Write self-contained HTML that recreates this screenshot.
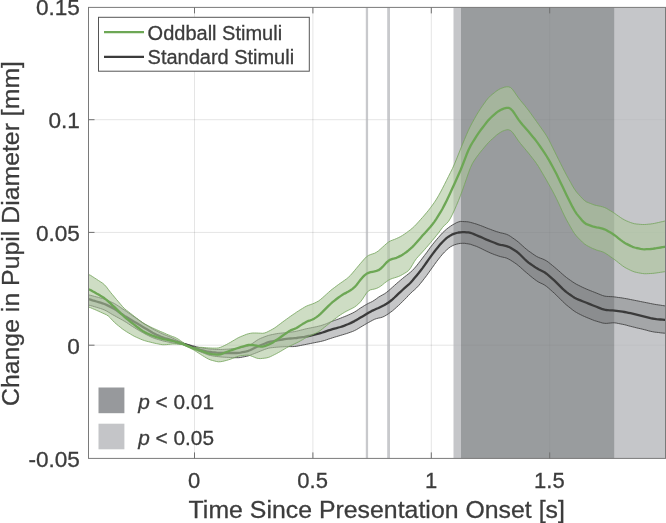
<!DOCTYPE html>
<html lang="en"><head><meta charset="utf-8"><title>Change in Pupil Diameter</title>
<style>html,body{margin:0;padding:0;background:#fff;overflow:hidden}body{width:666px;height:523px;position:relative}text{stroke:#3c3c3c;stroke-width:.3px}</style></head>
<body>
<svg width="666" height="523" viewBox="0 0 666 523" style="display:block;position:absolute;left:0;top:0" font-family="'Liberation Sans', Arial, Helvetica, sans-serif" fill="#3c3c3c">
<rect x="0" y="0" width="666" height="523" fill="#ffffff"/>
<line x1="194.5" y1="7.4" x2="194.5" y2="458.4" stroke="#262626" stroke-opacity="0.085" stroke-width="1"/>
<line x1="312.9" y1="7.4" x2="312.9" y2="458.4" stroke="#262626" stroke-opacity="0.085" stroke-width="1"/>
<line x1="431.3" y1="7.4" x2="431.3" y2="458.4" stroke="#262626" stroke-opacity="0.085" stroke-width="1"/>
<line x1="549.7" y1="7.4" x2="549.7" y2="458.4" stroke="#262626" stroke-opacity="0.085" stroke-width="1"/>
<line x1="88.5" y1="345.2" x2="667" y2="345.2" stroke="#262626" stroke-opacity="0.085" stroke-width="1"/>
<line x1="88.5" y1="232.4" x2="667" y2="232.4" stroke="#262626" stroke-opacity="0.085" stroke-width="1"/>
<line x1="88.5" y1="119.7" x2="667" y2="119.7" stroke="#262626" stroke-opacity="0.085" stroke-width="1"/>
<rect x="453.5" y="7.4" width="214.5" height="451.0" fill="#c5c6c9"/>
<rect x="461" y="7.4" width="153.20000000000005" height="451.0" fill="#999c9e"/>
<rect x="365.8" y="7.4" width="2.3" height="451.0" fill="#c8c9cc"/>
<rect x="387.2" y="7.4" width="2.8" height="451.0" fill="#c8c9cc"/>
<line x1="194.5" y1="7.4" x2="194.5" y2="458.4" stroke="#262626" stroke-opacity="0.03" stroke-width="1"/>
<line x1="312.9" y1="7.4" x2="312.9" y2="458.4" stroke="#262626" stroke-opacity="0.03" stroke-width="1"/>
<line x1="431.3" y1="7.4" x2="431.3" y2="458.4" stroke="#262626" stroke-opacity="0.03" stroke-width="1"/>
<line x1="549.7" y1="7.4" x2="549.7" y2="458.4" stroke="#262626" stroke-opacity="0.03" stroke-width="1"/>
<line x1="88.5" y1="345.2" x2="667" y2="345.2" stroke="#262626" stroke-opacity="0.03" stroke-width="1"/>
<line x1="88.5" y1="232.4" x2="667" y2="232.4" stroke="#262626" stroke-opacity="0.03" stroke-width="1"/>
<line x1="88.5" y1="119.7" x2="667" y2="119.7" stroke="#262626" stroke-opacity="0.03" stroke-width="1"/>
<clipPath id="ax"><rect x="88.5" y="7.4" width="577.0" height="451.0"/></clipPath>
<g clip-path="url(#ax)">
<path d="M88.5 294.9 L90.5 295.3 L92.5 295.8 L94.5 296.4 L96.5 296.9 L98.5 297.4 L100.5 298.0 L102.5 298.5 L104.5 299.1 L106.5 299.9 L108.5 300.8 L110.5 301.7 L112.5 302.6 L114.5 303.6 L116.5 304.8 L118.5 306.1 L120.5 307.4 L122.5 308.8 L124.5 310.1 L126.5 311.5 L128.5 312.9 L130.5 314.3 L132.5 315.7 L134.5 317.1 L136.5 318.5 L138.5 319.9 L140.5 321.3 L142.5 322.7 L144.5 324.0 L146.5 325.2 L148.5 326.4 L150.5 327.6 L152.5 328.8 L154.5 329.9 L156.5 330.9 L158.5 331.9 L160.5 332.9 L162.5 333.8 L164.5 334.7 L166.5 335.5 L168.5 336.3 L170.5 337.1 L172.5 338.0 L174.5 338.9 L176.5 339.9 L178.5 340.9 L180.5 341.9 L182.5 342.8 L184.5 343.5 L186.5 344.0 L188.5 344.6 L190.5 345.1 L192.5 345.7 L194.5 346.2 L196.5 346.8 L198.5 347.3 L200.5 347.7 L202.5 348.1 L204.5 348.4 L206.5 348.6 L208.5 348.9 L210.5 349.1 L212.5 349.2 L214.5 349.4 L216.5 349.5 L218.5 349.5 L220.5 349.5 L222.5 349.4 L224.5 349.3 L226.5 349.2 L228.5 349.1 L230.5 348.9 L232.5 348.7 L234.5 348.5 L236.5 348.3 L238.5 348.1 L240.5 347.7 L242.5 347.3 L244.5 346.9 L246.5 346.5 L248.5 345.8 L250.5 344.8 L252.5 343.4 L254.5 342.0 L256.5 340.6 L258.5 339.4 L260.5 338.4 L262.5 337.6 L264.5 336.8 L266.5 336.1 L268.5 335.4 L270.5 334.9 L272.5 334.5 L274.5 334.1 L276.5 333.7 L278.5 333.4 L280.5 333.2 L282.5 333.0 L284.5 332.8 L286.5 332.6 L288.5 332.3 L290.5 332.1 L292.5 331.9 L294.5 331.6 L296.5 331.2 L298.5 330.7 L300.5 330.2 L302.5 329.7 L304.5 329.2 L306.5 328.7 L308.5 328.3 L310.5 327.9 L312.5 327.5 L314.5 327.1 L316.5 326.7 L318.5 326.2 L320.5 325.7 L322.5 325.1 L324.5 324.4 L326.5 323.7 L328.5 322.8 L330.5 321.9 L332.5 321.1 L334.5 320.4 L336.5 319.7 L338.5 319.0 L340.5 318.2 L342.5 317.4 L344.5 316.6 L346.5 315.8 L348.5 314.9 L350.5 314.0 L352.5 313.1 L354.5 312.0 L356.5 310.8 L358.5 309.4 L360.5 308.0 L362.5 306.8 L364.5 305.5 L366.5 304.4 L368.5 303.3 L370.5 302.4 L372.5 301.4 L374.5 300.1 L376.5 298.7 L378.5 297.2 L380.5 296.0 L382.5 294.9 L384.5 293.8 L386.5 292.4 L388.5 290.8 L390.5 289.0 L392.5 287.2 L394.5 285.4 L396.5 283.6 L398.5 281.9 L400.5 280.2 L402.5 278.5 L404.5 276.9 L406.5 275.4 L408.5 273.8 L410.5 272.2 L412.5 270.4 L414.5 268.2 L416.5 265.9 L418.5 263.3 L420.5 260.7 L422.5 258.1 L424.5 255.4 L426.5 252.8 L428.5 250.0 L430.5 247.2 L432.5 244.6 L434.5 242.1 L436.5 239.7 L438.5 237.4 L440.5 235.1 L442.5 232.9 L444.5 231.0 L446.5 229.2 L448.5 227.6 L450.5 226.2 L452.5 224.9 L454.5 223.8 L456.5 222.7 L458.5 221.9 L460.5 221.4 L462.5 221.5 L464.5 221.6 L466.5 221.7 L468.5 221.9 L470.5 222.4 L472.5 222.9 L474.5 223.5 L476.5 224.1 L478.5 224.8 L480.5 225.5 L482.5 226.3 L484.5 227.1 L486.5 227.9 L488.5 228.7 L490.5 229.4 L492.5 230.2 L494.5 230.9 L496.5 231.6 L498.5 232.2 L500.5 232.8 L502.5 233.2 L504.5 233.7 L506.5 234.3 L508.5 235.2 L510.5 236.4 L512.5 237.8 L514.5 239.2 L516.5 240.6 L518.5 242.2 L520.5 244.0 L522.5 245.8 L524.5 247.6 L526.5 249.3 L528.5 250.9 L530.5 252.3 L532.5 253.7 L534.5 255.1 L536.5 256.4 L538.5 257.4 L540.5 258.2 L542.5 258.9 L544.5 259.8 L546.5 260.9 L548.5 262.3 L550.5 263.9 L552.5 265.5 L554.5 267.2 L556.5 268.9 L558.5 270.6 L560.5 272.4 L562.5 274.2 L564.5 275.9 L566.5 277.5 L568.5 279.0 L570.5 280.4 L572.5 281.8 L574.5 283.1 L576.5 284.3 L578.5 285.3 L580.5 286.3 L582.5 287.3 L584.5 288.2 L586.5 289.1 L588.5 289.9 L590.5 290.7 L592.5 291.5 L594.5 292.3 L596.5 293.1 L598.5 293.9 L600.5 294.7 L602.5 295.5 L604.5 296.1 L606.5 296.4 L608.5 296.5 L610.5 296.6 L612.5 296.7 L614.5 296.9 L616.5 297.2 L618.5 297.5 L620.5 297.7 L622.5 298.0 L624.5 298.4 L626.5 298.7 L628.5 299.1 L630.5 299.5 L632.5 299.9 L634.5 300.3 L636.5 300.7 L638.5 301.1 L640.5 301.5 L642.5 301.9 L644.5 302.3 L646.5 302.7 L648.5 303.1 L650.5 303.5 L652.5 303.9 L654.5 304.3 L656.5 304.6 L658.5 304.9 L660.5 305.2 L662.5 305.5 L664.5 305.8 L666.5 305.9 L666.5 333.3 L664.5 333.2 L662.5 333.0 L660.5 332.8 L658.5 332.5 L656.5 332.3 L654.5 332.1 L652.5 331.7 L650.5 331.3 L648.5 330.8 L646.5 330.2 L644.5 329.7 L642.5 329.2 L640.5 328.7 L638.5 328.3 L636.5 327.8 L634.5 327.3 L632.5 326.8 L630.5 326.3 L628.5 325.8 L626.5 325.2 L624.5 324.7 L622.5 324.3 L620.5 323.9 L618.5 323.5 L616.5 323.1 L614.5 322.8 L612.5 322.8 L610.5 323.0 L608.5 323.2 L606.5 323.4 L604.5 323.3 L602.5 323.0 L600.5 322.4 L598.5 321.8 L596.5 321.2 L594.5 320.6 L592.5 319.8 L590.5 319.0 L588.5 318.2 L586.5 317.4 L584.5 316.5 L582.5 315.6 L580.5 314.6 L578.5 313.6 L576.5 312.5 L574.5 311.3 L572.5 309.8 L570.5 308.2 L568.5 306.6 L566.5 305.0 L564.5 303.2 L562.5 301.3 L560.5 299.3 L558.5 297.3 L556.5 295.3 L554.5 293.4 L552.5 291.6 L550.5 289.8 L548.5 288.0 L546.5 286.4 L544.5 285.0 L542.5 283.9 L540.5 283.0 L538.5 282.0 L536.5 280.7 L534.5 279.3 L532.5 277.7 L530.5 276.1 L528.5 274.4 L526.5 272.7 L524.5 271.0 L522.5 269.2 L520.5 267.4 L518.5 265.7 L516.5 264.1 L514.5 262.7 L512.5 261.4 L510.5 260.1 L508.5 259.0 L506.5 258.1 L504.5 257.5 L502.5 257.1 L500.5 256.6 L498.5 256.0 L496.5 255.3 L494.5 254.6 L492.5 253.8 L490.5 253.0 L488.5 252.1 L486.5 251.2 L484.5 250.2 L482.5 249.2 L480.5 248.2 L478.5 247.3 L476.5 246.4 L474.5 245.7 L472.5 245.0 L470.5 244.3 L468.5 243.9 L466.5 243.6 L464.5 243.3 L462.5 243.3 L460.5 243.4 L458.5 243.7 L456.5 244.2 L454.5 244.8 L452.5 245.7 L450.5 246.8 L448.5 248.3 L446.5 250.1 L444.5 252.0 L442.5 254.2 L440.5 256.6 L438.5 259.1 L436.5 261.7 L434.5 264.5 L432.5 267.3 L430.5 270.1 L428.5 272.9 L426.5 275.7 L424.5 278.3 L422.5 280.9 L420.5 283.4 L418.5 285.8 L416.5 287.9 L414.5 289.8 L412.5 291.5 L410.5 293.4 L408.5 295.4 L406.5 297.6 L404.5 299.6 L402.5 301.6 L400.5 303.6 L398.5 305.5 L396.5 307.3 L394.5 309.1 L392.5 310.8 L390.5 312.3 L388.5 313.7 L386.5 315.0 L384.5 316.2 L382.5 317.1 L380.5 317.7 L378.5 318.1 L376.5 318.6 L374.5 319.3 L372.5 320.3 L370.5 321.4 L368.5 322.5 L366.5 323.6 L364.5 324.8 L362.5 326.0 L360.5 327.2 L358.5 328.4 L356.5 329.6 L354.5 330.6 L352.5 331.5 L350.5 332.2 L348.5 332.9 L346.5 333.6 L344.5 334.2 L342.5 334.8 L340.5 335.4 L338.5 336.0 L336.5 336.6 L334.5 337.2 L332.5 337.8 L330.5 338.5 L328.5 339.1 L326.5 339.8 L324.5 340.5 L322.5 341.0 L320.5 341.5 L318.5 341.9 L316.5 342.3 L314.5 342.7 L312.5 343.1 L310.5 343.5 L308.5 343.9 L306.5 344.3 L304.5 344.7 L302.5 345.1 L300.5 345.5 L298.5 345.9 L296.5 346.3 L294.5 346.5 L292.5 346.6 L290.5 346.6 L288.5 346.6 L286.5 346.6 L284.5 346.7 L282.5 346.8 L280.5 346.9 L278.5 347.1 L276.5 347.2 L274.5 347.4 L272.5 347.6 L270.5 347.8 L268.5 348.2 L266.5 348.8 L264.5 349.5 L262.5 350.3 L260.5 351.1 L258.5 351.9 L256.5 352.7 L254.5 353.5 L252.5 354.3 L250.5 355.1 L248.5 355.8 L246.5 356.3 L244.5 356.7 L242.5 357.1 L240.5 357.5 L238.5 357.7 L236.5 357.7 L234.5 357.7 L232.5 357.6 L230.5 357.5 L228.5 357.4 L226.5 357.3 L224.5 357.2 L222.5 357.1 L220.5 356.9 L218.5 356.7 L216.5 356.5 L214.5 356.2 L212.5 355.9 L210.5 355.5 L208.5 355.0 L206.5 354.3 L204.5 353.5 L202.5 352.7 L200.5 351.9 L198.5 351.1 L196.5 350.2 L194.5 349.4 L192.5 348.5 L190.5 347.7 L188.5 346.8 L186.5 346.0 L184.5 345.1 L182.5 344.5 L180.5 344.0 L178.5 343.8 L176.5 343.5 L174.5 343.2 L172.5 342.9 L170.5 342.5 L168.5 342.1 L166.5 341.7 L164.5 341.3 L162.5 340.8 L160.5 340.2 L158.5 339.6 L156.5 339.0 L154.5 338.4 L152.5 337.6 L150.5 336.7 L148.5 335.7 L146.5 334.7 L144.5 333.6 L142.5 332.5 L140.5 331.4 L138.5 330.2 L136.5 329.0 L134.5 327.7 L132.5 326.5 L130.5 325.2 L128.5 323.8 L126.5 322.5 L124.5 321.3 L122.5 320.1 L120.5 319.0 L118.5 317.9 L116.5 316.8 L114.5 315.7 L112.5 314.6 L110.5 313.4 L108.5 312.2 L106.5 311.0 L104.5 310.0 L102.5 309.2 L100.5 308.5 L98.5 307.9 L96.5 307.3 L94.5 306.7 L92.5 306.1 L90.5 305.5 L88.5 305.1Z" fill="#787a7d" fill-opacity="0.42" stroke="#404040" stroke-opacity="0.95" stroke-width="0.9" stroke-linejoin="round"/>
<path d="M88.5 299.2 L90.5 299.6 L92.5 300.3 L94.5 300.9 L96.5 301.5 L98.5 302.1 L100.5 302.7 L102.5 303.3 L104.5 304.0 L106.5 304.9 L108.5 305.9 L110.5 306.9 L112.5 307.9 L114.5 309.1 L116.5 310.4 L118.5 311.8 L120.5 313.2 L122.5 314.5 L124.5 315.9 L126.5 317.1 L128.5 318.3 L130.5 319.5 L132.5 320.7 L134.5 321.9 L136.5 323.1 L138.5 324.3 L140.5 325.5 L142.5 326.7 L144.5 327.9 L146.5 329.1 L148.5 330.3 L150.5 331.5 L152.5 332.7 L154.5 333.7 L156.5 334.7 L158.5 335.6 L160.5 336.5 L162.5 337.3 L164.5 338.1 L166.5 338.6 L168.5 339.2 L170.5 339.8 L172.5 340.3 L174.5 341.0 L176.5 341.6 L178.5 342.2 L180.5 342.9 L182.5 343.5 L184.5 344.2 L186.5 344.9 L188.5 345.6 L190.5 346.4 L192.5 347.1 L194.5 347.8 L196.5 348.5 L198.5 349.2 L200.5 349.8 L202.5 350.3 L204.5 350.8 L206.5 351.3 L208.5 351.7 L210.5 352.0 L212.5 352.3 L214.5 352.5 L216.5 352.7 L218.5 352.8 L220.5 352.9 L222.5 353.0 L224.5 353.0 L226.5 353.0 L228.5 353.0 L230.5 353.0 L232.5 353.0 L234.5 353.0 L236.5 353.0 L238.5 352.8 L240.5 352.6 L242.5 352.2 L244.5 351.8 L246.5 351.4 L248.5 350.8 L250.5 350.0 L252.5 349.0 L254.5 348.0 L256.5 347.0 L258.5 346.1 L260.5 345.3 L262.5 344.5 L264.5 343.7 L266.5 342.9 L268.5 342.2 L270.5 341.7 L272.5 341.3 L274.5 340.9 L276.5 340.5 L278.5 340.2 L280.5 339.8 L282.5 339.5 L284.5 339.2 L286.5 338.9 L288.5 338.7 L290.5 338.5 L292.5 338.4 L294.5 338.2 L296.5 338.0 L298.5 337.7 L300.5 337.4 L302.5 337.1 L304.5 336.8 L306.5 336.4 L308.5 336.0 L310.5 335.6 L312.5 335.1 L314.5 334.7 L316.5 334.2 L318.5 333.7 L320.5 333.1 L322.5 332.5 L324.5 331.8 L326.5 331.1 L328.5 330.4 L330.5 329.8 L332.5 329.2 L334.5 328.6 L336.5 328.1 L338.5 327.5 L340.5 327.0 L342.5 326.3 L344.5 325.6 L346.5 324.8 L348.5 324.0 L350.5 323.1 L352.5 322.1 L354.5 321.1 L356.5 319.9 L358.5 318.8 L360.5 317.6 L362.5 316.4 L364.5 315.2 L366.5 314.0 L368.5 312.8 L370.5 311.7 L372.5 310.6 L374.5 309.7 L376.5 308.8 L378.5 308.0 L380.5 307.0 L382.5 306.0 L384.5 305.0 L386.5 303.8 L388.5 302.5 L390.5 301.0 L392.5 299.3 L394.5 297.5 L396.5 295.6 L398.5 293.7 L400.5 291.8 L402.5 290.0 L404.5 288.2 L406.5 286.4 L408.5 284.7 L410.5 282.7 L412.5 280.5 L414.5 278.1 L416.5 275.7 L418.5 273.3 L420.5 270.7 L422.5 268.1 L424.5 265.3 L426.5 262.5 L428.5 259.7 L430.5 256.9 L432.5 254.1 L434.5 251.5 L436.5 248.9 L438.5 246.5 L440.5 244.1 L442.5 242.0 L444.5 240.0 L446.5 238.2 L448.5 236.7 L450.5 235.4 L452.5 234.3 L454.5 233.6 L456.5 233.0 L458.5 232.5 L460.5 232.3 L462.5 232.1 L464.5 232.1 L466.5 232.3 L468.5 232.4 L470.5 232.9 L472.5 233.5 L474.5 234.4 L476.5 235.2 L478.5 236.1 L480.5 236.9 L482.5 237.8 L484.5 238.7 L486.5 239.6 L488.5 240.4 L490.5 241.2 L492.5 242.0 L494.5 242.8 L496.5 243.6 L498.5 244.3 L500.5 244.8 L502.5 245.2 L504.5 245.6 L506.5 246.1 L508.5 246.8 L510.5 247.8 L512.5 249.0 L514.5 250.2 L516.5 251.5 L518.5 253.1 L520.5 255.0 L522.5 257.0 L524.5 259.0 L526.5 260.9 L528.5 262.6 L530.5 264.0 L532.5 265.4 L534.5 266.8 L536.5 268.1 L538.5 269.3 L540.5 270.3 L542.5 271.3 L544.5 272.3 L546.5 273.7 L548.5 275.3 L550.5 277.1 L552.5 278.9 L554.5 280.7 L556.5 282.6 L558.5 284.6 L560.5 286.6 L562.5 288.6 L564.5 290.5 L566.5 292.1 L568.5 293.6 L570.5 295.0 L572.5 296.4 L574.5 297.7 L576.5 298.7 L578.5 299.6 L580.5 300.4 L582.5 301.2 L584.5 302.0 L586.5 302.8 L588.5 303.6 L590.5 304.4 L592.5 305.2 L594.5 306.0 L596.5 306.8 L598.5 307.6 L600.5 308.4 L602.5 309.2 L604.5 309.7 L606.5 310.0 L608.5 310.2 L610.5 310.3 L612.5 310.4 L614.5 310.6 L616.5 310.8 L618.5 311.1 L620.5 311.4 L622.5 311.7 L624.5 312.0 L626.5 312.4 L628.5 312.8 L630.5 313.2 L632.5 313.6 L634.5 314.1 L636.5 314.6 L638.5 315.1 L640.5 315.6 L642.5 316.1 L644.5 316.6 L646.5 317.1 L648.5 317.6 L650.5 318.1 L652.5 318.5 L654.5 318.8 L656.5 319.1 L658.5 319.3 L660.5 319.5 L662.5 319.7 L664.5 319.9 L666.5 320.0" fill="none" stroke="#3b3b3b" stroke-width="2.3" stroke-linejoin="round"/>
<path d="M88.5 274.5 L90.5 275.3 L92.5 276.6 L94.5 277.9 L96.5 279.2 L98.5 280.5 L100.5 281.8 L102.5 283.1 L104.5 284.8 L106.5 287.0 L108.5 289.7 L110.5 292.3 L112.5 294.7 L114.5 297.1 L116.5 299.5 L118.5 301.8 L120.5 304.2 L122.5 306.5 L124.5 308.6 L126.5 310.3 L128.5 311.8 L130.5 313.4 L132.5 314.9 L134.5 316.5 L136.5 318.0 L138.5 319.5 L140.5 321.1 L142.5 322.5 L144.5 323.8 L146.5 324.9 L148.5 325.9 L150.5 326.9 L152.5 327.9 L154.5 328.8 L156.5 329.7 L158.5 330.6 L160.5 331.5 L162.5 332.3 L164.5 333.2 L166.5 334.1 L168.5 334.9 L170.5 335.7 L172.5 336.5 L174.5 337.2 L176.5 338.2 L178.5 339.3 L180.5 340.7 L182.5 342.1 L184.5 343.5 L186.5 344.7 L188.5 345.7 L190.5 346.4 L192.5 347.1 L194.5 347.5 L196.5 347.5 L198.5 347.3 L200.5 347.3 L202.5 347.4 L204.5 347.6 L206.5 347.8 L208.5 347.9 L210.5 348.0 L212.5 348.1 L214.5 348.1 L216.5 348.1 L218.5 347.9 L220.5 347.3 L222.5 346.5 L224.5 345.5 L226.5 344.5 L228.5 343.4 L230.5 342.3 L232.5 341.1 L234.5 339.9 L236.5 338.7 L238.5 337.6 L240.5 336.7 L242.5 335.9 L244.5 335.1 L246.5 334.3 L248.5 333.7 L250.5 333.3 L252.5 333.0 L254.5 333.0 L256.5 333.0 L258.5 333.1 L260.5 333.2 L262.5 333.3 L264.5 333.0 L266.5 332.3 L268.5 331.3 L270.5 330.3 L272.5 329.2 L274.5 328.0 L276.5 326.6 L278.5 325.1 L280.5 323.6 L282.5 322.1 L284.5 320.6 L286.5 319.2 L288.5 317.7 L290.5 316.3 L292.5 314.9 L294.5 313.6 L296.5 312.2 L298.5 310.9 L300.5 309.6 L302.5 308.4 L304.5 307.2 L306.5 306.1 L308.5 305.3 L310.5 304.6 L312.5 303.9 L314.5 303.1 L316.5 302.1 L318.5 301.0 L320.5 299.5 L322.5 297.8 L324.5 296.0 L326.5 294.2 L328.5 292.4 L330.5 290.6 L332.5 289.0 L334.5 287.5 L336.5 286.0 L338.5 284.5 L340.5 283.1 L342.5 281.7 L344.5 280.3 L346.5 278.9 L348.5 277.2 L350.5 275.3 L352.5 273.0 L354.5 270.6 L356.5 268.2 L358.5 265.8 L360.5 263.4 L362.5 261.1 L364.5 258.8 L366.5 256.8 L368.5 255.4 L370.5 254.6 L372.5 253.9 L374.5 253.3 L376.5 252.2 L378.5 250.8 L380.5 249.0 L382.5 247.2 L384.5 245.4 L386.5 243.6 L388.5 242.1 L390.5 240.9 L392.5 240.1 L394.5 239.4 L396.5 238.5 L398.5 237.6 L400.5 236.6 L402.5 235.4 L404.5 234.1 L406.5 232.7 L408.5 231.2 L410.5 229.7 L412.5 228.0 L414.5 226.2 L416.5 224.1 L418.5 221.9 L420.5 219.6 L422.5 217.4 L424.5 215.1 L426.5 212.7 L428.5 210.3 L430.5 207.7 L432.5 205.0 L434.5 202.2 L436.5 199.1 L438.5 195.7 L440.5 192.1 L442.5 188.3 L444.5 184.4 L446.5 180.4 L448.5 176.4 L450.5 172.4 L452.5 168.4 L454.5 163.9 L456.5 159.1 L458.5 154.1 L460.5 149.1 L462.5 144.3 L464.5 139.5 L466.5 134.7 L468.5 130.1 L470.5 126.0 L472.5 122.3 L474.5 118.7 L476.5 115.1 L478.5 111.8 L480.5 108.7 L482.5 105.8 L484.5 103.0 L486.5 100.2 L488.5 97.8 L490.5 95.8 L492.5 94.2 L494.5 92.6 L496.5 91.0 L498.5 89.7 L500.5 88.6 L502.5 87.9 L504.5 87.2 L506.5 86.8 L508.5 86.8 L510.5 87.5 L512.5 89.4 L514.5 92.1 L516.5 95.1 L518.5 97.9 L520.5 100.5 L522.5 102.9 L524.5 105.3 L526.5 107.8 L528.5 110.4 L530.5 113.1 L532.5 115.9 L534.5 118.7 L536.5 121.5 L538.5 124.3 L540.5 127.1 L542.5 129.9 L544.5 132.7 L546.5 135.8 L548.5 139.3 L550.5 143.2 L552.5 147.3 L554.5 151.3 L556.5 155.4 L558.5 159.4 L560.5 163.4 L562.5 167.4 L564.5 171.3 L566.5 175.1 L568.5 178.7 L570.5 182.3 L572.5 185.9 L574.5 189.2 L576.5 192.0 L578.5 194.3 L580.5 196.5 L582.5 198.7 L584.5 200.5 L586.5 201.9 L588.5 202.7 L590.5 203.5 L592.5 204.3 L594.5 205.0 L596.5 205.5 L598.5 205.9 L600.5 206.3 L602.5 206.8 L604.5 207.5 L606.5 208.4 L608.5 209.6 L610.5 210.8 L612.5 212.0 L614.5 213.3 L616.5 214.7 L618.5 216.1 L620.5 217.5 L622.5 218.8 L624.5 219.9 L626.5 220.9 L628.5 221.7 L630.5 222.5 L632.5 223.2 L634.5 223.7 L636.5 224.0 L638.5 224.2 L640.5 224.4 L642.5 224.5 L644.5 224.5 L646.5 224.4 L648.5 224.2 L650.5 224.0 L652.5 223.7 L654.5 223.4 L656.5 222.9 L658.5 222.5 L660.5 222.0 L662.5 221.6 L664.5 221.1 L666.5 220.9 L666.5 271.5 L664.5 271.7 L662.5 272.0 L660.5 272.3 L658.5 272.6 L656.5 272.9 L654.5 273.2 L652.5 273.4 L650.5 273.5 L648.5 273.6 L646.5 273.7 L644.5 273.7 L642.5 273.5 L640.5 273.2 L638.5 272.8 L636.5 272.4 L634.5 271.9 L632.5 271.2 L630.5 270.3 L628.5 269.3 L626.5 268.3 L624.5 267.2 L622.5 265.8 L620.5 264.3 L618.5 262.7 L616.5 261.1 L614.5 259.5 L612.5 258.1 L610.5 256.7 L608.5 255.3 L606.5 253.9 L604.5 252.7 L602.5 251.8 L600.5 251.2 L598.5 250.6 L596.5 250.0 L594.5 249.2 L592.5 248.4 L590.5 247.4 L588.5 246.4 L586.5 245.3 L584.5 243.9 L582.5 242.2 L580.5 240.2 L578.5 238.2 L576.5 236.1 L574.5 233.5 L572.5 230.4 L570.5 226.9 L568.5 223.4 L566.5 219.8 L564.5 215.9 L562.5 211.7 L560.5 207.3 L558.5 202.9 L556.5 198.7 L554.5 194.7 L552.5 190.9 L550.5 187.3 L548.5 183.7 L546.5 180.2 L544.5 176.7 L542.5 173.3 L540.5 169.9 L538.5 166.5 L536.5 163.5 L534.5 160.7 L532.5 158.2 L530.5 155.6 L528.5 153.1 L526.5 150.7 L524.5 148.3 L522.5 145.9 L520.5 143.5 L518.5 140.9 L516.5 138.0 L514.5 135.0 L512.5 132.3 L510.5 130.5 L508.5 129.7 L506.5 129.8 L504.5 130.4 L502.5 131.2 L500.5 132.3 L498.5 133.6 L496.5 135.1 L494.5 136.9 L492.5 138.7 L490.5 140.5 L488.5 142.5 L486.5 144.7 L484.5 147.1 L482.5 149.5 L480.5 151.9 L478.5 154.5 L476.5 157.2 L474.5 160.1 L472.5 163.3 L470.5 167.5 L468.5 172.8 L466.5 178.6 L464.5 184.4 L462.5 190.0 L460.5 195.4 L458.5 200.5 L456.5 205.3 L454.5 209.9 L452.5 214.2 L450.5 218.2 L448.5 221.4 L446.5 223.6 L444.5 225.3 L442.5 227.5 L440.5 230.2 L438.5 232.9 L436.5 235.4 L434.5 237.9 L432.5 240.3 L430.5 242.7 L428.5 245.1 L426.5 247.4 L424.5 249.7 L422.5 251.9 L420.5 254.1 L418.5 256.3 L416.5 258.5 L414.5 261.3 L412.5 264.7 L410.5 268.1 L408.5 270.6 L406.5 272.1 L404.5 273.3 L402.5 274.5 L400.5 275.6 L398.5 276.5 L396.5 277.2 L394.5 277.8 L392.5 278.4 L390.5 279.2 L388.5 280.2 L386.5 281.6 L384.5 283.1 L382.5 284.8 L380.5 286.3 L378.5 287.5 L376.5 288.4 L374.5 289.0 L372.5 289.4 L370.5 289.8 L368.5 290.9 L366.5 293.0 L364.5 296.1 L362.5 299.2 L360.5 301.8 L358.5 303.9 L356.5 305.6 L354.5 307.1 L352.5 308.2 L350.5 309.2 L348.5 310.2 L346.5 311.2 L344.5 312.3 L342.5 313.5 L340.5 314.8 L338.5 316.2 L336.5 317.7 L334.5 319.2 L332.5 320.8 L330.5 322.4 L328.5 324.0 L326.5 325.6 L324.5 327.2 L322.5 328.8 L320.5 330.4 L318.5 331.7 L316.5 332.9 L314.5 333.8 L312.5 334.8 L310.5 335.6 L308.5 336.4 L306.5 337.4 L304.5 338.5 L302.5 339.7 L300.5 340.8 L298.5 341.9 L296.5 342.9 L294.5 343.8 L292.5 344.8 L290.5 345.7 L288.5 346.7 L286.5 347.8 L284.5 349.0 L282.5 350.2 L280.5 351.4 L278.5 352.5 L276.5 353.6 L274.5 354.6 L272.5 355.6 L270.5 356.6 L268.5 357.4 L266.5 357.9 L264.5 358.2 L262.5 358.4 L260.5 358.6 L258.5 358.5 L256.5 358.1 L254.5 357.3 L252.5 356.5 L250.5 355.7 L248.5 355.2 L246.5 355.1 L244.5 355.3 L242.5 355.5 L240.5 355.7 L238.5 356.2 L236.5 356.8 L234.5 357.6 L232.5 358.4 L230.5 359.2 L228.5 359.8 L226.5 360.4 L224.5 360.9 L222.5 361.4 L220.5 361.7 L218.5 361.8 L216.5 361.5 L214.5 361.0 L212.5 360.5 L210.5 359.9 L208.5 359.1 L206.5 358.0 L204.5 356.8 L202.5 355.6 L200.5 354.3 L198.5 353.0 L196.5 351.7 L194.5 350.4 L192.5 349.3 L190.5 348.3 L188.5 347.3 L186.5 346.3 L184.5 345.3 L182.5 344.6 L180.5 344.2 L178.5 344.2 L176.5 344.1 L174.5 344.0 L172.5 344.0 L170.5 344.2 L168.5 344.4 L166.5 344.6 L164.5 344.7 L162.5 344.7 L160.5 344.4 L158.5 344.0 L156.5 343.6 L154.5 343.2 L152.5 342.7 L150.5 342.2 L148.5 341.7 L146.5 341.2 L144.5 340.6 L142.5 339.9 L140.5 339.1 L138.5 338.2 L136.5 337.3 L134.5 336.4 L132.5 335.3 L130.5 334.1 L128.5 332.9 L126.5 331.7 L124.5 330.4 L122.5 329.0 L120.5 327.4 L118.5 325.8 L116.5 324.2 L114.5 322.4 L112.5 320.4 L110.5 318.1 L108.5 316.2 L106.5 314.8 L104.5 313.9 L102.5 313.0 L100.5 312.1 L98.5 311.2 L96.5 310.3 L94.5 309.4 L92.5 308.6 L90.5 307.7 L88.5 307.1Z" fill="#aec79d" fill-opacity="0.6" stroke="#74a55c" stroke-opacity="0.9" stroke-width="0.9" stroke-linejoin="round"/>
<path d="M88.5 289.3 L90.5 290.0 L92.5 291.2 L94.5 292.3 L96.5 293.5 L98.5 294.6 L100.5 295.8 L102.5 296.9 L104.5 298.3 L106.5 299.8 L108.5 301.6 L110.5 303.4 L112.5 305.3 L114.5 307.1 L116.5 309.1 L118.5 311.1 L120.5 313.1 L122.5 315.0 L124.5 316.9 L126.5 318.6 L128.5 320.2 L130.5 321.8 L132.5 323.4 L134.5 324.9 L136.5 326.5 L138.5 328.0 L140.5 329.5 L142.5 330.9 L144.5 332.1 L146.5 333.1 L148.5 334.0 L150.5 334.9 L152.5 335.7 L154.5 336.4 L156.5 337.1 L158.5 337.7 L160.5 338.3 L162.5 338.8 L164.5 339.3 L166.5 339.7 L168.5 340.1 L170.5 340.5 L172.5 341.0 L174.5 341.5 L176.5 342.1 L178.5 342.7 L180.5 343.3 L182.5 344.0 L184.5 344.7 L186.5 345.6 L188.5 346.4 L190.5 347.2 L192.5 348.1 L194.5 348.8 L196.5 349.5 L198.5 350.1 L200.5 350.7 L202.5 351.4 L204.5 352.1 L206.5 352.8 L208.5 353.5 L210.5 353.9 L212.5 354.2 L214.5 354.4 L216.5 354.6 L218.5 354.6 L220.5 354.3 L222.5 353.6 L224.5 352.8 L226.5 352.0 L228.5 351.3 L230.5 350.5 L232.5 349.8 L234.5 349.2 L236.5 348.5 L238.5 347.8 L240.5 347.2 L242.5 346.6 L244.5 346.0 L246.5 345.4 L248.5 345.0 L250.5 344.9 L252.5 345.0 L254.5 345.3 L256.5 345.7 L258.5 346.2 L260.5 346.6 L262.5 346.6 L264.5 346.2 L266.5 345.4 L268.5 344.6 L270.5 343.7 L272.5 342.7 L274.5 341.4 L276.5 340.0 L278.5 338.6 L280.5 337.2 L282.5 335.8 L284.5 334.4 L286.5 333.0 L288.5 331.6 L290.5 330.4 L292.5 329.6 L294.5 328.9 L296.5 328.0 L298.5 326.7 L300.5 325.4 L302.5 324.1 L304.5 322.9 L306.5 321.8 L308.5 320.9 L310.5 320.3 L312.5 319.5 L314.5 318.4 L316.5 317.1 L318.5 315.6 L320.5 313.8 L322.5 311.9 L324.5 309.9 L326.5 307.9 L328.5 305.9 L330.5 304.0 L332.5 302.2 L334.5 300.6 L336.5 299.0 L338.5 297.5 L340.5 296.1 L342.5 294.8 L344.5 293.6 L346.5 292.6 L348.5 291.5 L350.5 290.3 L352.5 288.9 L354.5 287.2 L356.5 285.0 L358.5 282.4 L360.5 279.8 L362.5 277.4 L364.5 275.4 L366.5 273.8 L368.5 272.9 L370.5 272.2 L372.5 271.8 L374.5 271.4 L376.5 270.9 L378.5 270.2 L380.5 268.8 L382.5 266.9 L384.5 264.7 L386.5 262.5 L388.5 260.8 L390.5 259.6 L392.5 258.9 L394.5 258.4 L396.5 257.8 L398.5 256.9 L400.5 255.9 L402.5 254.7 L404.5 253.4 L406.5 252.0 L408.5 250.4 L410.5 248.7 L412.5 246.9 L414.5 244.8 L416.5 242.6 L418.5 240.2 L420.5 237.9 L422.5 235.6 L424.5 233.4 L426.5 231.2 L428.5 229.0 L430.5 226.8 L432.5 224.3 L434.5 221.6 L436.5 218.6 L438.5 215.4 L440.5 212.2 L442.5 208.7 L444.5 204.9 L446.5 200.9 L448.5 196.7 L450.5 192.5 L452.5 188.1 L454.5 183.7 L456.5 179.3 L458.5 174.8 L460.5 170.2 L462.5 165.3 L464.5 160.1 L466.5 154.8 L468.5 150.0 L470.5 145.9 L472.5 142.5 L474.5 139.3 L476.5 136.1 L478.5 133.1 L480.5 130.3 L482.5 127.7 L484.5 125.1 L486.5 122.5 L488.5 120.1 L490.5 118.0 L492.5 116.2 L494.5 114.4 L496.5 112.7 L498.5 111.2 L500.5 110.0 L502.5 109.1 L504.5 108.3 L506.5 107.8 L508.5 107.8 L510.5 108.7 L512.5 110.7 L514.5 113.5 L516.5 116.6 L518.5 119.6 L520.5 122.3 L522.5 124.8 L524.5 127.0 L526.5 129.3 L528.5 131.6 L530.5 134.0 L532.5 136.4 L534.5 138.8 L536.5 141.4 L538.5 144.1 L540.5 147.0 L542.5 149.9 L544.5 152.8 L546.5 156.0 L548.5 159.3 L550.5 162.9 L552.5 166.5 L554.5 170.2 L556.5 174.1 L558.5 178.2 L560.5 182.4 L562.5 186.6 L564.5 190.8 L566.5 194.9 L568.5 198.9 L570.5 202.9 L572.5 206.9 L574.5 210.5 L576.5 213.6 L578.5 216.1 L580.5 218.5 L582.5 220.9 L584.5 222.8 L586.5 224.2 L588.5 224.9 L590.5 225.6 L592.5 226.3 L594.5 226.8 L596.5 227.3 L598.5 227.7 L600.5 228.1 L602.5 228.6 L604.5 229.3 L606.5 230.2 L608.5 231.4 L610.5 232.6 L612.5 233.8 L614.5 235.2 L616.5 236.7 L618.5 238.3 L620.5 239.9 L622.5 241.4 L624.5 242.8 L626.5 243.9 L628.5 244.9 L630.5 245.9 L632.5 246.8 L634.5 247.5 L636.5 248.0 L638.5 248.4 L640.5 248.8 L642.5 249.1 L644.5 249.3 L646.5 249.2 L648.5 249.1 L650.5 249.0 L652.5 248.8 L654.5 248.5 L656.5 248.2 L658.5 247.8 L660.5 247.5 L662.5 247.1 L664.5 246.8 L666.5 246.6" fill="none" stroke="#6da755" stroke-width="2.3" stroke-linejoin="round"/>
</g>
<rect x="88.5" y="7.4" width="577.0" height="451.0" fill="none" stroke="#7a7a7a" stroke-width="1"/>
<line x1="194.5" y1="458.4" x2="194.5" y2="452.4" stroke="#707070" stroke-width="1"/>
<line x1="194.5" y1="7.4" x2="194.5" y2="13.4" stroke="#707070" stroke-width="1"/>
<line x1="312.9" y1="458.4" x2="312.9" y2="452.4" stroke="#707070" stroke-width="1"/>
<line x1="312.9" y1="7.4" x2="312.9" y2="13.4" stroke="#707070" stroke-width="1"/>
<line x1="431.3" y1="458.4" x2="431.3" y2="452.4" stroke="#707070" stroke-width="1"/>
<line x1="431.3" y1="7.4" x2="431.3" y2="13.4" stroke="#707070" stroke-width="1"/>
<line x1="549.7" y1="458.4" x2="549.7" y2="452.4" stroke="#707070" stroke-width="1"/>
<line x1="549.7" y1="7.4" x2="549.7" y2="13.4" stroke="#707070" stroke-width="1"/>
<line x1="88.5" y1="345.2" x2="94.5" y2="345.2" stroke="#707070" stroke-width="1"/>
<line x1="88.5" y1="232.4" x2="94.5" y2="232.4" stroke="#707070" stroke-width="1"/>
<line x1="88.5" y1="119.7" x2="94.5" y2="119.7" stroke="#707070" stroke-width="1"/>
<text x="79.9" y="15.0" font-size="22.6" text-anchor="end">0.15</text>
<text x="79.9" y="128.4" font-size="22.6" text-anchor="end">0.1</text>
<text x="79.9" y="241.1" font-size="22.6" text-anchor="end">0.05</text>
<text x="79.9" y="353.9" font-size="22.6" text-anchor="end">0</text>
<text x="79.9" y="466.6" font-size="22.6" text-anchor="end">-0.05</text>
<text x="194.2" y="487.8" font-size="22" text-anchor="middle">0</text>
<text x="312.6" y="487.8" font-size="22" text-anchor="middle">0.5</text>
<text x="431.0" y="487.8" font-size="22" text-anchor="middle">1</text>
<text x="549.4" y="487.8" font-size="22" text-anchor="middle">1.5</text>
<text x="188.6" y="518" font-size="24.8" textLength="376.3" lengthAdjust="spacing">Time Since Presentation Onset [s]</text>
<text transform="translate(18.7,406) rotate(-90)" font-size="24.8" textLength="345" lengthAdjust="spacing">Change in Pupil Diameter [mm]</text>
<rect x="98.5" y="17.3" width="210.8" height="53.900000000000006" fill="#ffffff" stroke="#555555" stroke-width="1"/>
<line x1="104" y1="32.1" x2="144" y2="32.1" stroke="#6da755" stroke-width="2.3"/>
<line x1="104" y1="56.9" x2="144" y2="56.9" stroke="#3b3b3b" stroke-width="2.3"/>
<text x="147.6" y="39.6" font-size="20" textLength="134.5" lengthAdjust="spacing">Oddball Stimuli</text>
<text x="147.6" y="64" font-size="20" textLength="146.5" lengthAdjust="spacing">Standard Stimuli</text>
<rect x="98.5" y="387.5" width="25.9" height="25.7" fill="#97999c"/>
<rect x="98.5" y="423.7" width="25.9" height="25.6" fill="#c4c5c8"/>
<text x="138.2" y="408.8" font-size="20.8"><tspan font-style="italic">p</tspan> &lt; 0.01</text>
<text x="138.2" y="444.8" font-size="20.8"><tspan font-style="italic">p</tspan> &lt; 0.05</text>
</svg>
</body></html>
